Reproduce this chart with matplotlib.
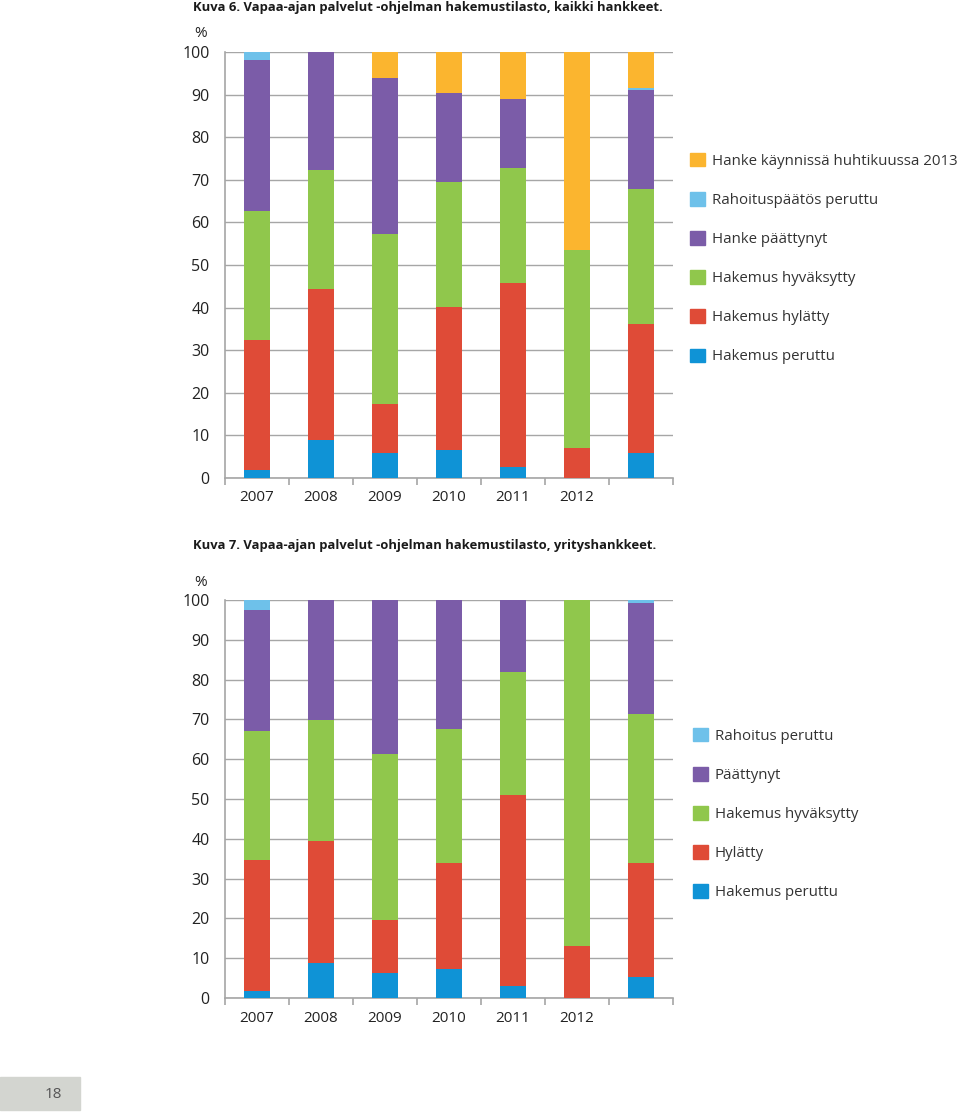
import matplotlib
matplotlib.use("Agg")
import matplotlib.pyplot as plt
from matplotlib.patches import Patch, Rectangle
import numpy as np

plt.rcParams['font.family'] = ['Open Sans', 'DejaVu Sans']

years = ['2007', '2008', '2009', '2010', '2011', '2012', '']

# Kuva 6: shares (%)
k6_peruttu = [1.9, 9.0, 5.9, 6.6, 2.6, 0.0, 5.9]
k6_hylatty = [30.5, 35.4, 11.5, 33.5, 43.2, 7.0, 30.3]
k6_hyvaksytty = [30.3, 27.9, 39.9, 29.4, 27.0, 46.5, 31.6]
k6_paattynyt = [35.5, 27.7, 36.5, 20.8, 16.2, 0.0, 23.2]
k6_rahoitus_peruttu = [1.8, 0.0, 0.0, 0.0, 0.0, 0.0, 0.6]
k6_kaynnissa = [0.0, 0.0, 6.2, 9.7, 11.0, 46.5, 8.4]

# Kuva 7: yrityshankkeet
k7_peruttu = [1.8, 8.9, 6.4, 7.3, 2.9, 0.0, 5.3]
k7_hylatty = [32.9, 30.6, 13.2, 26.7, 48.2, 13.1, 28.7]
k7_hyvaksytty = [32.5, 30.4, 41.6, 33.7, 30.9, 86.9, 37.4]
k7_paattynyt = [30.3, 30.1, 38.8, 32.3, 18.0, 0.0, 27.8]
k7_rahoitus_peruttu = [2.5, 0.0, 0.0, 0.0, 0.0, 0.0, 0.8]

c_orange = '#FBB52F'
c_lblue = '#6EC1EA'
c_purple = '#7B5CA8'
c_green = '#90C74C'
c_red = '#DF4B37'
c_blue = '#0F93D6'

fig = plt.figure(figsize=(9.6, 11.13), dpi=100)
W, H = 960, 1113


def make_axes(top_px, bottom_px):
    return fig.add_axes([225 / W, 1 - bottom_px / H, (673 - 225) / W, (bottom_px - top_px) / H])


def draw_chart(ax, series):
    x = np.arange(len(years))
    bottom = np.zeros(len(years))
    for vals, col in series:
        ax.bar(x, vals, width=0.41, bottom=bottom, color=col, zorder=3)
        bottom += np.array(vals)
    ax.set_xlim(-0.5, len(years) - 0.5)
    ax.set_ylim(0, 100)
    ax.set_yticks(range(0, 101, 10))
    ax.yaxis.grid(True, color='#A6A6A6', linewidth=1.0, zorder=0)
    ax.set_axisbelow(True)
    for s in ['top', 'right']:
        ax.spines[s].set_visible(False)
    for s in ['left', 'bottom']:
        ax.spines[s].set_color('#A6A6A6')
        ax.spines[s].set_linewidth(1.2)
    ax.tick_params(axis='y', length=0, labelsize=11.5, pad=11, colors='#222222')
    # x ticks at category boundaries, labels centred under bars
    ax.set_xticks(np.arange(-0.5, len(years)), minor=False)
    ax.set_xticklabels([])
    ax.tick_params(axis='x', which='major', direction='out', length=5,
                   width=1.2, color='#A6A6A6')
    ax.set_xticks(x, minor=True)
    ax.set_xticklabels(years, minor=True)
    ax.tick_params(axis='x', which='minor', length=0, labelsize=11, pad=9,
                   labelcolor='#222222')
    ax.text(-0.055, 1.025, '%', transform=ax.transAxes, ha='center', va='bottom',
            fontsize=11, color='#222222')


legend_kw = dict(loc='upper left', frameon=False, fontsize=10.8, handlelength=1.0,
                 handleheight=1.0, handletextpad=0.45, labelspacing=1.55,
                 labelcolor='#333333', borderaxespad=0, borderpad=0)

# ---- Kuva 6 ----
fig.text(193 / W, 1 - 8 / H, 'Kuva 6. Vapaa-ajan palvelut -ohjelman hakemustilasto, kaikki hankkeet.',
         ha='left', va='center', fontsize=9.4, fontweight='bold', color='#1a1a1a')
ax1 = make_axes(52, 478)
draw_chart(ax1, [(k6_peruttu, c_blue), (k6_hylatty, c_red), (k6_hyvaksytty, c_green),
                 (k6_paattynyt, c_purple), (k6_rahoitus_peruttu, c_lblue),
                 (k6_kaynnissa, c_orange)])
leg1 = [Patch(color=c_orange, label='Hanke käynnissä huhtikuussa 2013'),
        Patch(color=c_lblue, label='Rahoituspäätös peruttu'),
        Patch(color=c_purple, label='Hanke päättynyt'),
        Patch(color=c_green, label='Hakemus hyväksytty'),
        Patch(color=c_red, label='Hakemus hylätty'),
        Patch(color=c_blue, label='Hakemus peruttu')]
fig.legend(handles=leg1, bbox_to_anchor=(690 / W, 1 - 153 / H), **legend_kw)

# ---- Kuva 7 ----
fig.text(193 / W, 1 - 545 / H, 'Kuva 7. Vapaa-ajan palvelut -ohjelman hakemustilasto, yrityshankkeet.',
         ha='left', va='center', fontsize=9.4, fontweight='bold', color='#1a1a1a')
ax2 = make_axes(600, 998)
draw_chart(ax2, [(k7_peruttu, c_blue), (k7_hylatty, c_red), (k7_hyvaksytty, c_green),
                 (k7_paattynyt, c_purple), (k7_rahoitus_peruttu, c_lblue)])
leg2 = [Patch(color=c_lblue, label='Rahoitus peruttu'),
        Patch(color=c_purple, label='Päättynyt'),
        Patch(color=c_green, label='Hakemus hyväksytty'),
        Patch(color=c_red, label='Hylätty'),
        Patch(color=c_blue, label='Hakemus peruttu')]
fig.legend(handles=leg2, bbox_to_anchor=(693 / W, 1 - 728 / H), **legend_kw)

# page number box
fig.add_artist(Rectangle((0, 1 - 1110 / H), 80 / W, 33 / H, transform=fig.transFigure,
                         color='#D3D5D0', zorder=0))
fig.text(62 / W, 1 - 1095 / H, '18', ha='right', va='center', fontsize=11, color='#555555')

fig.savefig('out.png', dpi=100)
